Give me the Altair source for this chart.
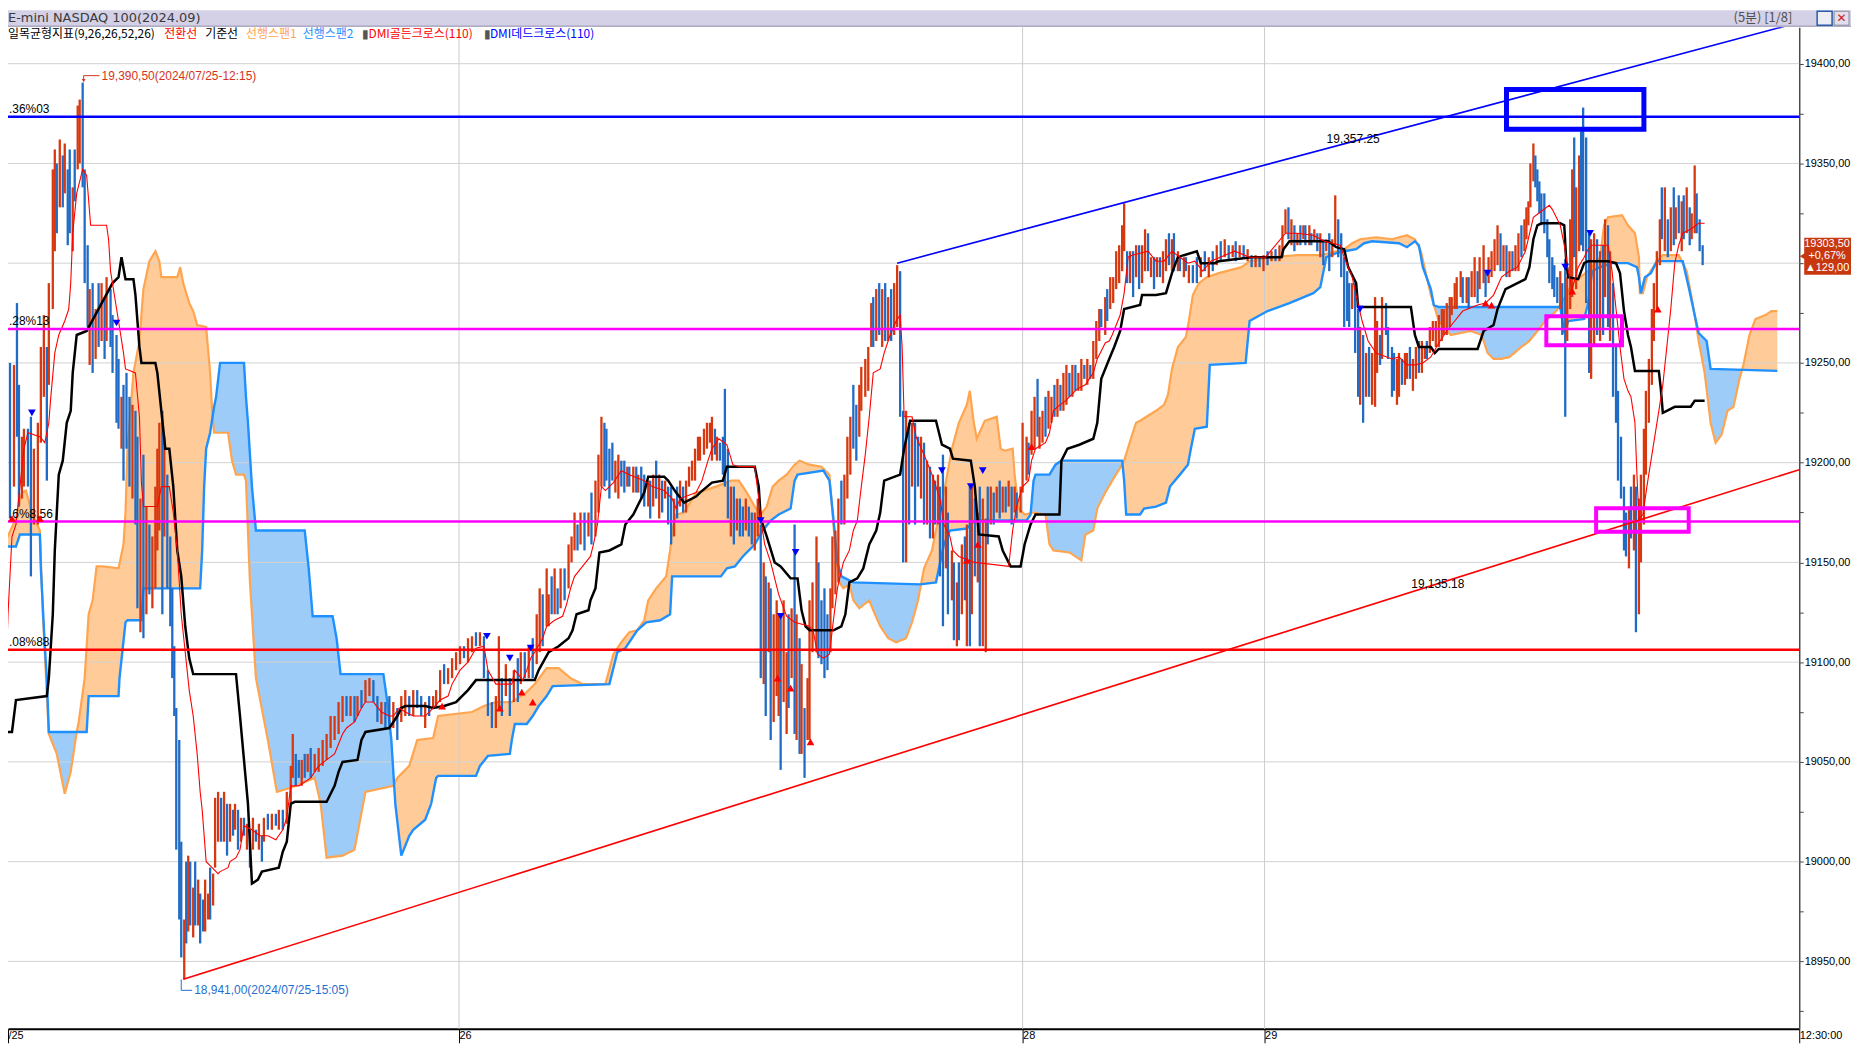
import altair as alt
import numpy as np
import pandas as pd

# ---------------- layout ----------------
W, H = 1799, 1006
PAD_R, PAD_T, PAD_B = 52, 17, 17
X_MIN, X_MAX = 8, 1807           # time index (5-min bar positions)
P_MIN, P_MAX = 18916.2, 19418.3  # price range of the panel

KFONT = "Noto Sans CJK KR"
NFONT = "Liberation Sans Narrow, Liberation Sans, Arial"

# ---------------- axes data ----------------
day_ticks = [8, 461, 1027, 1270, 1807]
day_labels = ["/25", "26", "28", "29", "12:30:00"]
day_grid = [461, 1027, 1270]
price_ticks = list(range(18925, 19401, 25))
price_grid = list(range(18950, 19401, 50))

# ---------------- candles: (t, high, low, up) ----------------
candles_a = [
(3,19218,19163,1),(6,19217,19188,1),(10,19250,19172,0),(14,19249,19188,1),(17,19280,19213,0),(19,19239,19178,0),
(22,19213,19182,1),(24,19217,19188,1),(28,19217,19188,0),(31,19223,19143,0),(34,19207,19169,1),(38,19220,19169,1),
(41,19258,19210,1),(44,19274,19233,1),(47,19258,19191,0),(49,19290,19239,1),(53,19347,19277,1),(55,19357,19306,1),
(57,19350,19315,0),(60,19362,19328,1),(63,19354,19328,0),(65,19360,19335,1),(68,19347,19309,0),(70,19357,19315,0),
(73,19338,19306,1),(75,19357,19331,0),(78,19379,19347,1),(80,19382,19350,1),(83,19390.5,19338,0),(85,19347,19290,0),
(88,19309,19268,0),(90,19287,19249,1),(93,19290,19245,0),(96,19277,19252,1),(99,19290,19258,0),(102,19290,19261,1),
(105,19283,19252,0),(107,19293,19261,1),(111,19287,19258,0),(113,19274,19245,0),(117,19264,19220,0),(119,19252,19217,0),
(122,19233,19207,1),(124,19239,19191,0),(127,19245,19207,0),(130,19233,19188,0),(133,19229,19182,1),(136,19226,19169,0),
(138,19213,19127,0),(141,19182,19115,1),(144,19204,19112,0),(147,19178,19124,1),(150,19169,19134,0),(153,19163,19127,1),
(156,19188,19137,1),(158,19207,19156,1),(160,19220,19166,1),(163,19226,19124,0),(165,19213,19163,1),(168,19194,19137,0),
(171,19163,19118,0),(173,19137,19092,0),(175,19108,19073,0),(177,19077,19006,0),(180,19061,18971,0),(182,19010,18952,0),
(185,18971,18941,1),(187,19000,18959,0),(189,19003,18965,1),(191,19000,18968,0),(194,18987,18962,1),(196,19000,18968,0),
(199,18991,18968,1),(201,18984,18959,0),(204,18981,18965,0),(206,18991,18965,1),(209,18984,18971,1),(211,18997,18971,0),
(214,18994,18978,1),(216,19032,18997,1),(219,19035,19010,1),(222,19032,19010,0),(225,19035,19010,1),(228,19029,19003,0),
(231,19029,19010,1),(234,19026,19013,0),(236,19029,19016,1),(239,19026,19006,0),(242,19022,19010,1),(245,19022,19013,0),
(248,19019,19006,1),(251,19016,18997,0),(254,19022,19006,1),(257,19016,19010,0),(260,19019,19006,1),(263,19013,19000,0),
(265,19022,19010,1),(269,19024,19016,0),(273,19024,19016,1),(277,19024,19018,0),(280,19026,19016,1),(284,19026,19016,0),
(288,19035,19019,1),(292,19048,19029,1),(294,19064,19042,1),(297,19054,19038,0),(300,19051,19042,0),(303,19051,19038,1),
(306,19054,19042,0),(309,19054,19045,1),(312,19057,19042,0),(316,19054,19045,1),(320,19057,19045,1),(324,19061,19048,1),
(328,19064,19051,1),(332,19073,19057,1),(336,19073,19061,1),(340,19080,19064,1),(344,19083,19070,1),(348,19083,19073,0),
(352,19083,19073,1),(356,19083,19070,0),(359,19083,19073,1),(363,19086,19077,0),(367,19091,19080,1),(371,19092,19083,1),
(375,19091,19080,0),(379,19083,19070,0),(383,19080,19069,1),(387,19080,19067,0),(391,19083,19067,0),(395,19080,19067,1),
(399,19077,19061,0),(403,19083,19070,1),(407,19086,19073,1),(411,19083,19073,0),(415,19086,19073,1),(419,19086,19077,0),
(423,19083,19073,0),(427,19080,19067,1),(431,19083,19073,0),(435,19083,19077,1),(438,19086,19078,1),(442,19096,19080,1),
(446,19099,19089,0),(450,19097,19089,1),(454,19102,19092,1),(458,19105,19096,1),(462,19108,19099,1),(466,19108,19102,0),
(470,19112,19100,1),(474,19113,19105,1),(478,19115,19108,0),(482,19115,19108,1),(486,19113,19092,0),(490,19096,19073,0),
(494,19080,19067,0),(498,19083,19067,1),(501,19113,19077,1),(504,19092,19073,0),(508,19099,19083,1),(512,19092,19073,0),
(516,19096,19080,1),(520,19102,19080,0),(523,19105,19089,1),(527,19105,19092,0),(531,19108,19092,1),(535,19112,19092,0),
(539,19124,19099,1),(542,19137,19105,1),(545,19134,19108,0),(549,19147,19118,1),(551,19134,19118,1),(554,19143,19124,0),
(557,19147,19124,1),(560,19137,19124,0),(563,19147,19127,1),(567,19147,19131,0),(571,19159,19137,1),(574,19163,19150,1),
(577,19175,19156,1),(580,19169,19156,0),(583,19175,19159,1),(587,19175,19156,0),(591,19175,19163,1),(594,19185,19159,0),
(598,19191,19163,1),(601,19204,19175,1),(604,19223,19188,1),(607,19220,19188,0),
]
candles_b = [
(609,19217,19191,0),(612,19207,19182,0),(615,19210,19191,0),(618,19201,19185,1),(621,19204,19182,1),(624,19201,19188,0),
(627,19201,19185,0),(630,19198,19188,1),(632,19198,19188,0),(636,19198,19185,1),(639,19198,19185,0),(641,19194,19185,1),
(644,19198,19182,0),(647,19194,19178,0),(651,19191,19178,1),(653,19191,19172,0),(656,19194,19178,1),(659,19201,19182,0),
(662,19194,19172,1),(665,19191,19175,0),(668,19191,19182,1),(671,19188,19169,0),(674,19188,19159,0),(677,19182,19163,1),
(680,19188,19172,0),(683,19191,19178,1),(686,19188,19175,0),(689,19191,19175,1),(692,19198,19188,1),(695,19201,19191,1),
(698,19207,19191,1),(701,19213,19201,1),(703,19213,19201,1),(707,19217,19204,1),(710,19220,19207,1),(713,19220,19210,1),
(715,19223,19201,1),(718,19217,19204,0),(720,19213,19201,1),(723,19210,19201,0),(726,19213,19194,0),(728,19237,19188,0),
(731,19207,19172,0),(734,19188,19163,1),(737,19188,19159,0),(740,19182,19166,1),(743,19182,19163,0),(746,19178,19163,0),
(749,19182,19166,1),(752,19178,19163,0),(755,19175,19159,0),(758,19175,19156,1),(761,19182,19163,1),(764,19169,19092,0),
(767,19150,19089,1),(769,19143,19073,0),(772,19140,19105,1),(774,19137,19061,0),(777,19124,19070,1),(780,19131,19083,1),
(782,19124,19073,1),(784,19124,19046,0),(787,19131,19080,1),(790,19105,19064,1),(792,19124,19077,0),(795,19127,19092,1),
(798,19169,19064,0),(800,19124,19061,1),(803,19112,19054,0),(805,19099,19054,1),(808,19077,19042,0),(811,19092,19061,1),
(813,19131,19061,1),(816,19140,19105,1),(820,19163,19105,1),(822,19150,19102,0),(825,19131,19099,0),(828,19137,19092,0),
(831,19124,19096,0),(834,19137,19105,1),(836,19163,19127,1),(839,19166,19134,1),(842,19182,19140,1),(845,19191,19169,0),
(848,19194,19169,1),(851,19213,19182,1),(854,19223,19194,1),(857,19239,19207,0),(860,19229,19201,0),(863,19239,19213,1),
(865,19248,19226,1),(869,19252,19233,1),(872,19258,19236,1),(875,19280,19258,1),(877,19283,19258,0),(880,19287,19261,1),
(883,19290,19264,0),(886,19287,19258,1),(889,19290,19261,0),(892,19283,19261,1),(895,19287,19261,0),(898,19290,19264,1),
(901,19299,19268,1),(904,19296,19223,0),(907,19226,19150,0),(910,19226,19150,1),(913,19220,19169,0),(916,19220,19188,1),
(919,19220,19169,0),(922,19213,19188,0),(925,19213,19182,1),(928,19210,19169,0),(931,19201,19169,1),(934,19198,19162,0),
(937,19194,19162,1),(939,19191,19169,0),(942,19194,19169,1),(944,19188,19143,0),(947,19204,19118,0),(950,19188,19147,1),
(952,19175,19124,0),(956,19156,19131,1),(958,19150,19111,0),(961,19140,19108,1),(963,19150,19111,0),(966,19159,19124,1),
(969,19163,19131,0),(971,19169,19108,1),(974,19188,19108,0),(976,19188,19124,1),(979,19182,19143,0),(982,19175,19140,1),
(984,19188,19108,0),(987,19182,19108,1),(990,19172,19105,1),(992,19188,19159,0),(995,19188,19169,1),(998,19185,19169,0),
(1001,19188,19175,1),(1004,19191,19172,0),(1007,19188,19175,1),(1010,19188,19175,0),(1013,19191,19178,1),(1016,19188,19169,0),
(1019,19188,19175,1),(1021,19185,19172,0),(1025,19188,19175,1),(1027,19220,19185,1),(1031,19213,19191,1),(1033,19210,19194,0),
(1036,19226,19204,1),(1039,19233,19207,1),(1042,19242,19213,0),(1044,19223,19207,1),(1047,19226,19210,1),(1050,19233,19213,0),
(1053,19236,19217,1),(1056,19233,19220,1),(1059,19239,19223,0),(1062,19242,19223,1),(1065,19239,19226,0),(1068,19245,19226,1),
(1071,19249,19229,1),(1074,19245,19233,0),(1077,19249,19233,1),(1080,19249,19236,0),(1083,19245,19236,1),(1086,19252,19236,1),
(1089,19249,19242,0),(1092,19252,19239,1),(1095,19249,19242,0),(1098,19261,19242,1),(1101,19271,19252,1),(1104,19277,19261,1),
(1106,19277,19268,0),(1110,19283,19264,1),(1112,19287,19271,0),(1115,19293,19277,1),(1118,19293,19280,1),(1121,19306,19287,1),
(1124,19309,19290,1),(1127,19319,19296,1),(1129,19330,19306,1),(1132,19306,19290,0),(1135,19306,19290,1),(1138,19306,19283,0),
(1141,19309,19293,1),(1144,19309,19287,0),(1147,19309,19290,1),(1150,19317,19296,1),(1153,19315,19296,0),(1156,19303,19293,1),
(1159,19303,19287,0),(1162,19303,19293,1),(1165,19303,19293,0),(1168,19306,19290,1),(1171,19312,19296,1),(1174,19315,19299,0),
(1177,19312,19296,1),(1179,19315,19296,0),(1183,19306,19296,1),(1185,19303,19296,0),(1189,19303,19293,1),(1191,19303,19296,0),
(1194,19299,19290,1),(1198,19299,19290,0),
]
candles_c = [
(1202,19303,19290,0),(1206,19303,19293,1),(1210,19306,19296,0),(1214,19303,19293,1),(1218,19306,19296,0),(1222,19309,19299,1),
(1226,19311,19301,0),(1230,19312,19303,1),(1234,19309,19301,0),(1238,19309,19303,1),(1241,19311,19301,0),(1245,19309,19303,1),
(1249,19309,19303,0),(1253,19307,19301,1),(1257,19304,19298,0),(1261,19304,19298,1),(1265,19303,19298,0),(1269,19304,19296,1),
(1273,19306,19299,0),(1277,19306,19301,1),(1281,19307,19301,0),(1285,19309,19301,1),(1288,19319,19303,1),(1291,19327,19315,1),
(1294,19328,19312,0),(1297,19322,19309,1),(1300,19319,19306,0),(1303,19315,19309,1),(1306,19319,19309,0),(1309,19319,19312,1),
(1311,19319,19309,0),(1315,19319,19309,1),(1317,19315,19309,0),(1320,19317,19311,1),(1323,19315,19306,0),(1326,19315,19303,1),
(1329,19312,19299,0),(1332,19312,19306,1),(1335,19315,19296,0),(1338,19312,19303,1),(1341,19334,19309,1),(1344,19322,19303,0),
(1347,19315,19293,0),(1350,19303,19268,0),(1353,19296,19271,0),(1355,19290,19268,0),(1358,19290,19277,1),(1361,19290,19255,0),
(1364,19277,19233,0),(1366,19268,19229,1),(1369,19264,19220,0),(1372,19255,19233,1),(1375,19258,19233,0),(1378,19255,19229,1),
(1381,19283,19228,1),(1383,19271,19245,1),(1386,19264,19249,0),(1388,19283,19252,1),(1392,19280,19264,0),(1394,19268,19252,0),
(1398,19258,19233,0),(1400,19255,19236,0),(1403,19252,19229,1),(1405,19255,19233,1),(1408,19252,19239,0),(1411,19255,19239,1),
(1413,19255,19242,1),(1416,19258,19242,0),(1419,19252,19236,1),(1422,19258,19242,1),(1425,19261,19245,0),(1428,19261,19245,1),
(1431,19258,19252,1),(1433,19261,19252,0),(1436,19268,19255,1),(1439,19271,19261,1),(1442,19271,19258,1),(1445,19274,19258,1),
(1448,19277,19261,1),(1450,19277,19264,1),(1453,19280,19264,1),(1456,19283,19268,1),(1458,19283,19274,1),(1461,19290,19277,1),
(1463,19293,19277,1),(1467,19296,19283,1),(1469,19293,19280,0),(1473,19293,19280,1),(1475,19293,19277,0),(1478,19296,19283,1),
(1481,19303,19283,1),(1484,19296,19280,0),(1486,19303,19287,1),(1490,19309,19290,1),(1492,19296,19283,0),(1495,19303,19290,1),
(1498,19306,19293,1),(1501,19312,19296,1),(1504,19319,19299,1),(1507,19315,19296,0),(1510,19309,19296,1),(1513,19309,19293,0),
(1516,19306,19293,1),(1519,19306,19296,0),(1522,19309,19296,1),(1525,19315,19296,1),(1528,19319,19303,0),(1531,19322,19306,1),
(1533,19328,19312,1),(1535,19331,19319,1),(1537,19350,19328,1),(1540,19360,19341,1),(1542,19354,19338,0),(1544,19347,19331,0),
(1546,19341,19325,0),(1548,19335,19319,0),(1551,19335,19315,0),(1554,19322,19303,0),(1556,19312,19290,0),(1559,19303,19287,0),
(1561,19299,19283,0),(1564,19293,19280,0),(1567,19296,19277,1),(1569,19290,19264,0),(1572,19302,19223,0),(1574,19293,19261,1),
(1577,19322,19277,1),(1579,19347,19283,1),(1581,19363,19303,0),(1583,19338,19287,1),(1586,19354,19306,1),(1588,19366,19309,0),
(1590,19378,19306,0),(1593,19363,19280,0),(1596,19315,19245,0),(1598,19312,19242,1),(1601,19315,19258,1),(1604,19312,19264,0),
(1607,19306,19261,1),(1610,19309,19264,0),(1612,19322,19283,1),(1615,19319,19268,0),(1617,19306,19261,1),(1620,19290,19233,0),
(1623,19258,19220,0),(1625,19236,19191,0),(1628,19213,19182,0),(1631,19188,19156,0),(1633,19175,19153,0),(1636,19178,19147,1),
(1638,19188,19162,0),(1641,19194,19156,1),(1643,19188,19115,0),(1646,19182,19124,1),(1648,19194,19150,1),(1651,19217,19169,1),
(1653,19236,19194,1),(1656,19252,19220,1),(1659,19277,19239,1),(1661,19290,19261,1),(1664,19306,19277,1),(1667,19322,19299,1),
(1669,19338,19312,0),(1672,19338,19306,1),(1675,19322,19303,0),(1678,19328,19306,1),(1681,19338,19309,0),(1683,19328,19312,1),
(1686,19334,19315,0),(1689,19331,19306,1),(1691,19334,19312,0),(1694,19338,19315,1),(1697,19328,19309,0),(1699,19325,19312,1),
(1702,19349,19315,1),(1704,19335,19315,0),(1707,19322,19306,0),(1710,19309,19299,0),
]

# ---------------- ichimoku lines: (t, price) ----------------
tenkan = [
(0,19032),(4,19065),(8,19124),(12,19163),(16,19169),(24,19207),(28,19215),(40,19213),(45,19210),(49,19220),(51,19233),
(55,19255),(59,19264),(65,19271),(69,19277),(71,19290),(73,19315),(77,19335),(83,19347),(87,19344),(91,19319),(107,19319),
(109,19312),(111,19296),(119,19271),(124,19255),(126,19247),(136,19245),(140,19223),(142,19190),(144,19178),(158,19178),
(162,19188),(170,19188),(174,19175),(178,19156),(182,19124),(186,19105),(190,19086),(194,19073),(198,19054),(201,19035),
(203,19026),(207,19000),(213,18997),(219,18994),(221,18995),(229,18997),(231,19000),(237,19002),(241,19006),(245,19018),
(253,19016),(261,19013),(269,19013),(277,19011),(284,19016),(288,19022),(292,19038),(300,19038),(312,19042),(316,19045),
(320,19048),(328,19051),(336,19054),(344,19064),(348,19067),(356,19070),(363,19077),(367,19080),(375,19080),(383,19075),
(391,19073),(395,19073),(401,19077),(407,19075),(415,19073),(427,19073),(435,19077),(442,19081),(450,19083),(454,19089),
(462,19096),(470,19100),(478,19107),(486,19108),(490,19096),(498,19089),(514,19089),(517,19096),(525,19091),(529,19096),
(533,19102),(537,19105),(545,19112),(549,19118),(557,19121),(565,19123),(569,19129),(573,19137),(577,19143),(585,19148),
(593,19153),(596,19159),(600,19169),(604,19188),(608,19186),(616,19190),(624,19196),(632,19194),(647,19191),(655,19188),
(667,19186),(675,19182),(679,19177),(683,19182),(699,19185),(705,19191),(711,19201),(715,19207),(722,19212),(730,19209),
(736,19199),(742,19198),(758,19198),(762,19182),(764,19172),(768,19159),(774,19150),(782,19134),(790,19123),(798,19120),
(813,19118),(817,19115),(821,19104),(827,19102),(833,19104),(837,19121),(841,19137),(847,19150),(853,19156),(857,19166),
(861,19171),(865,19188),(869,19204),(873,19223),(877,19245),(884,19247),(888,19255),(894,19264),(900,19271),(904,19274),
(906,19258),(908,19223),(916,19223),(920,19213),(928,19204),(936,19194),(944,19182),(948,19169),(954,19163),(957,19156),
(963,19153),(979,19150),(1013,19148),(1017,19166),(1021,19178),(1027,19188),(1033,19191),(1036,19201),(1040,19207),
(1050,19210),(1054,19215),(1058,19226),(1062,19228),(1070,19231),(1076,19234),(1082,19237),(1090,19239),(1098,19245),
(1102,19252),(1110,19260),(1114,19261),(1117,19264),(1125,19274),(1129,19285),(1133,19303),(1137,19304),(1153,19306),
(1161,19301),(1169,19301),(1177,19306),(1185,19303),(1193,19300),(1200,19301),(1208,19296),(1216,19301),(1240,19306),
(1255,19303),(1271,19303),(1291,19315),(1303,19315),(1319,19314),(1330,19311),(1346,19309),(1350,19303),(1358,19293),
(1362,19284),(1368,19271),(1374,19261),(1382,19255),(1398,19252),(1405,19253),(1413,19249),(1421,19249),(1429,19250),
(1437,19253),(1445,19260),(1453,19266),(1461,19271),(1469,19276),(1484,19279),(1492,19280),(1500,19284),(1508,19293),
(1516,19296),(1524,19298),(1532,19306),(1540,19323),(1548,19326),(1556,19329),(1559,19327),(1567,19319),(1571,19309),
(1575,19296),(1579,19287),(1585,19298),(1591,19303),(1595,19307),(1599,19309),(1615,19309),(1619,19296),(1623,19277),
(1627,19258),(1631,19242),(1635,19236),(1638,19233),(1642,19220),(1644,19194),(1646,19172),(1650,19174),(1654,19188),
(1660,19207),(1666,19226),(1670,19239),(1674,19258),(1678,19277),(1682,19300),(1686,19309),(1690,19315),(1698,19317),
(1706,19320),(1712,19320),
]
kijun = [
(0,19065),(12,19065),(16,19081),(47,19083),(49,19092),(53,19124),(55,19156),(59,19194),(63,19201),(67,19220),(71,19226),
(73,19245),(77,19264),(87,19266),(113,19290),(119,19293),(122,19303),(126,19292),(134,19292),(136,19284),(140,19258),
(142,19250),(156,19250),(158,19245),(162,19226),(166,19207),(170,19207),(174,19188),(178,19156),(182,19143),(186,19118),
(190,19102),(194,19094),(237,19094),(241,19073),(245,19051),(249,19029),(253,18989),(259,18991),(263,18995),(280,18997),
(284,19005),(288,19010),(292,19029),(296,19030),(328,19030),(336,19038),(340,19045),(344,19050),(359,19051),(363,19061),
(367,19065),(391,19067),(395,19070),(399,19073),(403,19077),(407,19078),(427,19078),(435,19077),(446,19078),(458,19080),
(470,19086),(478,19091),(537,19091),(541,19096),(551,19105),(561,19108),(571,19112),(575,19116),(579,19124),(591,19126),
(593,19131),(598,19137),(602,19155),(612,19156),(624,19159),(628,19169),(636,19174),(647,19185),(651,19193),(667,19193),
(671,19191),(679,19185),(687,19180),(699,19183),(703,19185),(715,19190),(726,19191),(730,19198),(758,19198),(762,19188),
(764,19172),(770,19163),(778,19150),(784,19148),(794,19142),(801,19142),(805,19126),(809,19118),(813,19116),(837,19116),
(845,19118),(849,19124),(853,19140),(861,19142),(867,19147),(873,19159),(880,19166),(884,19175),(888,19191),(904,19194),
(908,19207),(914,19221),(940,19221),(946,19209),(954,19207),(957,19202),(975,19201),(979,19188),(983,19164),(1003,19163),
(1007,19156),(1015,19148),(1025,19148),(1029,19159),(1035,19169),(1040,19174),(1064,19174),(1066,19201),(1072,19207),
(1084,19209),(1098,19212),(1102,19220),(1106,19242),(1114,19252),(1119,19258),(1125,19266),(1129,19277),(1145,19279),
(1147,19284),(1161,19284),(1171,19285),(1177,19295),(1183,19303),(1189,19304),(1202,19306),(1206,19300),(1220,19300),
(1224,19301),(1257,19303),(1287,19303),(1289,19307),(1295,19311),(1334,19311),(1342,19308),(1350,19307),(1354,19298),
(1362,19290),(1364,19278),(1417,19278),(1421,19264),(1425,19258),(1437,19258),(1441,19255),(1445,19257),(1484,19257),
(1490,19266),(1500,19269),(1504,19277),(1512,19287),(1516,19288),(1532,19292),(1536,19298),(1540,19312),(1544,19319),
(1548,19320),(1567,19320),(1571,19319),(1573,19301),(1575,19293),(1585,19292),(1591,19300),(1595,19301),(1615,19301),
(1623,19300),(1627,19295),(1631,19276),(1635,19264),(1638,19258),(1642,19246),(1666,19246),(1668,19237),(1670,19225),
(1674,19226),(1682,19228),(1698,19228),(1702,19231),(1712,19231),
]
span1 = [
(0,19153),(4,19159),(16,19172),(22,19185),(26,19186),(32,19175),(40,19166),(43,19124),(49,19064),(57,19054),(65,19034),
(71,19045),(77,19065),(79,19070),(85,19092),(89,19124),(93,19131),(97,19148),(103,19148),(119,19147),(124,19159),
(126,19175),(128,19207),(134,19245),(140,19261),(144,19287),(150,19301),(156,19306),(160,19301),(162,19293),(178,19293),
(181,19298),(184,19290),(190,19280),(194,19276),(198,19269),(207,19268),(211,19245),(213,19226),(215,19215),(229,19215),
(233,19201),(237,19194),(245,19194),(247,19191),(251,19140),(257,19092),(269,19061),(278,19035),(292,19037),(316,19042),
(322,19029),(328,19002),(344,19003),(356,19006),(367,19035),(395,19038),(399,19042),(411,19048),(419,19061),(435,19062),
(440,19073),(474,19075),(486,19078),(498,19080),(514,19080),(529,19085),(537,19089),(549,19097),(561,19097),(573,19092),
(585,19089),(608,19089),(616,19104),(624,19110),(632,19115),(640,19116),(647,19121),(651,19131),(659,19137),(669,19143),
(673,19156),(675,19166),(679,19174),(687,19175),(699,19185),(707,19186),(719,19188),(734,19191),(742,19191),(750,19185),
(758,19178),(764,19174),(770,19178),(776,19188),(782,19191),(790,19194),(798,19199),(803,19201),(813,19199),(825,19198),
(833,19194),(837,19169),(839,19156),(843,19140),(847,19137),(853,19139),(857,19131),(863,19127),(873,19131),(877,19126),
(884,19118),(892,19112),(900,19110),(910,19112),(916,19120),(922,19131),(928,19147),(936,19156),(940,19166),(948,19185),
(956,19207),(963,19220),(971,19229),(974,19236),(978,19220),(981,19212),(989,19221),(1001,19223),(1005,19207),(1009,19206),
(1017,19207),(1019,19194),(1023,19177),(1029,19174),(1038,19175),(1050,19174),(1054,19159),(1058,19156),(1074,19155),
(1086,19151),(1090,19164),(1098,19166),(1102,19177),(1110,19185),(1117,19191),(1127,19199),(1129,19201),(1137,19214),
(1141,19220),(1145,19221),(1161,19226),(1169,19229),(1173,19234),(1177,19247),(1183,19258),(1191,19263),(1194,19271),
(1198,19284),(1204,19290),(1212,19293),(1224,19295),(1247,19298),(1255,19301),(1279,19303),(1303,19304),(1326,19304),
(1350,19307),(1358,19310),(1366,19312),(1382,19313),(1398,19312),(1413,19314),(1421,19312),(1427,19306),(1437,19284),
(1445,19271),(1457,19264),(1477,19266),(1488,19264),(1494,19255),(1500,19252),(1508,19252),(1516,19253),(1528,19258),
(1536,19261),(1544,19266),(1552,19271),(1563,19276),(1573,19284),(1579,19290),(1587,19293),(1595,19296),(1607,19303),
(1611,19319),(1615,19323),(1629,19324),(1635,19319),(1642,19315),(1646,19303),(1647,19285),(1650,19285),(1654,19293),
(1664,19301),(1670,19304),(1686,19304),(1694,19296),(1700,19280),(1706,19261),(1712,19245),(1718,19220),(1723,19210),
(1729,19214),(1735,19226),(1741,19228),(1747,19242),(1751,19249),(1757,19264),(1763,19272),(1773,19274),(1779,19276),
(1785,19276),
]
span2 = [
(0,19158),(16,19158),(20,19164),(40,19164),(41,19147),(45,19108),(47,19092),(49,19065),(87,19065),(89,19083),(119,19083),
(120,19092),(126,19120),(128,19121),(142,19121),(144,19137),(201,19137),(203,19156),(205,19188),(207,19207),(211,19215),
(215,19228),(217,19233),(221,19250),(245,19250),(247,19233),(249,19220),(253,19188),(257,19166),(306,19166),(310,19147),
(314,19123),(334,19123),(338,19112),(342,19094),(385,19094),(389,19080),(393,19061),(397,19029),(403,19003),(411,19013),
(415,19016),(427,19021),(433,19029),(438,19042),(440,19043),(478,19043),(482,19048),(490,19053),(512,19054),(514,19061),
(517,19069),(529,19069),(535,19073),(541,19078),(549,19083),(555,19088),(612,19089),(616,19097),(620,19105),(628,19107),
(640,19116),(649,19120),(663,19121),(673,19124),(675,19143),(724,19143),(730,19147),(738,19148),(746,19153),(758,19159),
(766,19166),(774,19171),(782,19174),(794,19177),(798,19191),(801,19194),(827,19196),(833,19191),(837,19172),(841,19150),
(845,19143),(857,19140),(924,19139),(940,19140),(948,19159),(954,19166),(971,19167),(979,19171),(1031,19171),(1035,19174),
(1038,19191),(1040,19194),(1054,19194),(1060,19199),(1066,19201),(1127,19201),(1129,19191),(1131,19174),(1145,19174),
(1149,19177),(1161,19178),(1171,19180),(1175,19188),(1185,19194),(1193,19199),(1196,19207),(1200,19217),(1212,19218),
(1215,19249),(1251,19250),(1255,19271),(1273,19276),(1295,19280),(1319,19285),(1326,19288),(1332,19303),(1342,19305),
(1350,19306),(1362,19307),(1370,19310),(1378,19311),(1405,19310),(1413,19308),(1421,19311),(1425,19309),(1429,19298),
(1437,19287),(1440,19279),(1445,19278),(1567,19278),(1571,19265),(1575,19271),(1591,19272),(1595,19280),(1599,19296),
(1607,19298),(1619,19300),(1635,19300),(1644,19298),(1646,19293),(1648,19285),(1652,19293),(1658,19295),(1664,19301),
(1690,19301),(1696,19288),(1702,19274),(1706,19265),(1714,19261),(1718,19247),(1785,19246),
]

# ---------------- drawn objects ----------------
level_prices = [19373.4, 19267.0, 19170.5, 19106.2]
level_colors = ["#0000FF", "#FF00FF", "#FF00FF", "#FF0000"]
level_texts = [".36%03", ".28%13", ".6%8.56", ".08%88"]

trend_blue = [(901, 19300.0), (1807, 19420.7)]
trend_red = [(184, 18941.0), (1807, 19196.5)]
trend_texts = [(1359, 19362, "19,357.25"), (1444, 19139, "19,135.18")]

box_t = [1513, 1553, 1603]
box_t2 = [1651, 1629, 1696]
box_p = [19387.1, 19273.4, 19177.2]
box_p2 = [19367.1, 19258.8, 19165.4]
box_colors = ["#0000FF", "#FF00FF", "#FF00FF"]
box_widths = [5, 4, 4]

dmi_golden = [(12,19172),(40,19172),(444,19078),(502,19077),(524,19085),(535,19080),(781,19092),(794,19087),
              (814,19060),(971,19151),(982,19159),(1036,19208),(1492,19280),(1498,19279),(1579,19286),(1665,19277)]
dmi_dead = [(32,19225),(117,19270),(489,19113),(512,19102),(533,19107),(764,19171),(784,19123),(799,19155),
            (946,19196),(975,19188),(987,19196),(1366,19277),(1494,19295),(1572,19298),(1597,19315)]

high_label = (102, 19394, "19,390,50(2024/07/25-12:15)")
high_leader = [(84, 19391.5), (84, 19394), (100, 19394)]
low_label = (195, 18935.5, "18,941,00(2024/07/25-15:05)")
low_leader = [(182, 18941), (182, 18935.5), (193, 18935.5)]

last_price = 19303.5
tag_lines = ["19303,50", "+0,67%", "\u25b2129,00"]

legend_items = [(0, "일목균형지표(9,26,26,52,26)", "#000000"), (157, "전환선", "#FF0000"),
                (198, "기준선", "#000000"), (239, "선행스팬1", "#FFA54F"), (296, "선행스팬2", "#1E90FF"),
                (356, "\u25ae", "#555555"), (362, "DMI골든크로스(110)", "#FF0000"),
                (478, "\u25ae", "#555555"), (484, "DMI데드크로스(110)", "#0000FF")]

# ---------------- scales / axes ----------------
xs = alt.Scale(domain=[X_MIN, X_MAX], nice=False, zero=False)
ys = alt.Scale(domain=[P_MIN, P_MAX], nice=False, zero=False)
x_label_expr = " : ".join(f"datum.value == {v} ? '{l}'" for v, l in zip(day_ticks[:-1], day_labels[:-1])) + f" : '{day_labels[-1]}'"
xaxis = alt.Axis(values=day_ticks, labelExpr=x_label_expr, title=None, grid=False, domainColor="#000000",
                 domainWidth=2, tickColor="#000000", tickSize=14, labelAlign="left", labelBaseline="top",
                 labelPadding=-13, labelFontSize=11, labelFont=NFONT, labelColor="#000000",
                 labelFlush=False, labelOverlap=False)
# the 19300 label sits under the last-price tag, as in the source chart
yaxis = alt.Axis(orient="right", values=price_ticks, title=None, grid=False,
                 labelExpr="(datum.value % 50 == 0 && datum.value != 19300) ? replace(format(datum.value, '.2f'), '.', ',') : ''",
                 domainColor="#4A4A4A", domainWidth=1.5, tickColor="#4A4A4A", tickSize=4, labelPadding=1,
                 labelFontSize=11, labelFont=NFONT, labelColor="#000000", labelFlush=False, labelOverlap=False)


def X(f="t"):
    return alt.X(f"{f}:Q", scale=xs, axis=xaxis)


def Y(f="p"):
    return alt.Y(f"{f}:Q", scale=ys, axis=yaxis)


def pts(lst):
    return pd.DataFrame(lst, columns=["t", "p"])


# ---------------- data frames ----------------
cand = pd.DataFrame(candles_a + candles_b + candles_c, columns=["t", "p", "p2", "up"])
cand["dir"] = np.where(cand["up"] == 1, "up", "down")

s1 = pts(span1)
s2 = pts(span2)
# fill geometry between the two read span lines (drawn lines are straight between read vertices)
gt = np.arange(0, 1786)
g1 = np.interp(gt, s1["t"], s1["p"])
g2 = np.interp(gt, s2["t"], s2["p"])
cloud = pd.DataFrame({"t": gt, "a": g1, "b": g2, "lo": np.minimum(g1, g2)})

layers = []
layers.append(alt.Chart(cloud).mark_area(color="#FFCC99", opacity=1).encode(x=X(), y=Y("a"), y2=alt.Y2("lo:Q")))
layers.append(alt.Chart(cloud).mark_area(color="#9DCCF8", opacity=1).encode(x=X(), y=Y("b"), y2=alt.Y2("lo:Q")))
layers.append(alt.Chart(pd.DataFrame({"p": price_grid})).mark_rule(color="#D2D2D2", strokeWidth=1).encode(y=Y()))
layers.append(alt.Chart(pd.DataFrame({"t": day_grid})).mark_rule(color="#CDCDCD", strokeWidth=1).encode(x=X()))
layers.append(alt.Chart(s1).mark_line(color="#FFA54F", strokeWidth=2.2).encode(x=X(), y=Y()))
layers.append(alt.Chart(s2).mark_line(color="#1E90FF", strokeWidth=2.4).encode(x=X(), y=Y()))
layers.append(alt.Chart(cand).mark_rule(strokeWidth=2.3).encode(
    x=X(), y=Y(), y2=alt.Y2("p2:Q"),
    color=alt.Color("dir:N", scale=alt.Scale(domain=["up", "down"], range=["#D7380F", "#1F6BC5"]), legend=None)))
layers.append(alt.Chart(pts(kijun)).mark_line(color="#000000", strokeWidth=2.5).encode(x=X(), y=Y()))
layers.append(alt.Chart(pts(tenkan)).mark_line(color="#FF0000", strokeWidth=1.1).encode(x=X(), y=Y()))

lv = pd.DataFrame({"p": level_prices, "c": level_colors, "txt": level_texts})
layers.append(alt.Chart(lv).mark_rule(strokeWidth=2.5).encode(y=Y(), color=alt.Color("c:N", scale=None)))
layers.append(alt.Chart(lv.assign(t=X_MIN)).mark_text(align="left", baseline="bottom", dx=1, dy=-1, fontSize=12,
                                                      font=NFONT, color="#000000").encode(x=X(), y=Y(), text="txt:N"))

layers.append(alt.Chart(pts(trend_blue)).mark_line(color="#0000FF", strokeWidth=1.6, clip=True).encode(x=X(), y=Y()))
layers.append(alt.Chart(pts(trend_red)).mark_line(color="#FF0000", strokeWidth=1.6, clip=True).encode(x=X(), y=Y()))
layers.append(alt.Chart(pd.DataFrame(trend_texts, columns=["t", "p", "txt"])).mark_text(
    fontSize=12, font=NFONT, color="#000000").encode(x=X(), y=Y(), text="txt:N"))

bx = pd.DataFrame({"t": box_t, "t2": box_t2, "p": box_p, "p2": box_p2, "c": box_colors, "w": box_widths})
layers.append(alt.Chart(bx).mark_rect(fillOpacity=0, strokeJoin="miter").encode(
    x=X(), x2=alt.X2("t2:Q"), y=Y(), y2=alt.Y2("p2:Q"),
    stroke=alt.Color("c:N", scale=None), strokeWidth=alt.StrokeWidth("w:Q", scale=None)))

layers.append(alt.Chart(pts(dmi_golden)).mark_point(shape="triangle-up", filled=True, size=60, opacity=1,
                                                   color="#FF0000").encode(x=X(), y=Y()))
layers.append(alt.Chart(pts(dmi_dead)).mark_point(shape="triangle-down", filled=True, size=60, opacity=1,
                                                 color="#0000FF").encode(x=X(), y=Y()))

for lead, lab, col in [(high_leader, high_label, "#D6341A"), (low_leader, low_label, "#1F6FD0")]:
    ld = pts(lead)
    ld["o"] = range(len(ld))
    layers.append(alt.Chart(ld).mark_line(color=col, strokeWidth=1).encode(x=X(), y=Y(), order="o:Q"))
    layers.append(alt.Chart(pd.DataFrame([lab], columns=["t", "p", "txt"])).mark_text(
        align="left", baseline="middle", fontSize=12, font=NFONT, color=col).encode(x=X(), y=Y(), text="txt:N"))
layers.append(alt.Chart(pd.DataFrame({"t": [high_leader[0][0]], "p": [high_leader[0][1]]})).mark_point(
    shape="triangle-down", filled=True, size=14, opacity=1, color="#D6341A").encode(x=X(), y=Y()))

# price tag on the right axis
tag_box = pd.DataFrame({"p": [last_price + 9.25], "p2": [last_price - 9.25]})
layers.append(alt.Chart(tag_box).mark_rect(color="#C8380E").encode(
    x=alt.value(W + 5), x2=alt.value(W + PAD_R), y=Y(), y2=alt.Y2("p2:Q")))
layers.append(alt.Chart(pd.DataFrame({"p": [last_price]})).mark_point(
    shape="triangle-left", filled=True, size=110, opacity=1, color="#C8380E").encode(x=alt.value(W + 5), y=Y()))
tag_df = pd.DataFrame({"p": [last_price + 6, last_price, last_price - 6], "txt": tag_lines})
layers.append(alt.Chart(tag_df).mark_text(color="#FFFFFF", fontSize=11, font=NFONT, align="center",
                                          baseline="middle").encode(x=alt.value(W + 28), y=Y(), text="txt:N"))

# header bar and indicator legend (window chrome)
one = pd.DataFrame({"k": [0]})
layers.append(alt.Chart(one).mark_rect(color="#D4D0E6").encode(
    x=alt.value(0), x2=alt.value(W + PAD_R), y=alt.value(-17), y2=alt.value(-1)))
layers.append(alt.Chart(one).mark_rule(color="#8E8CAA", strokeWidth=1).encode(
    x=alt.value(0), x2=alt.value(W + PAD_R), y=alt.value(-1)))
layers.append(alt.Chart(one).mark_text(align="left", baseline="middle", fontSize=13, font="DejaVu Sans",
                                       color="#3A3A3A").encode(x=alt.value(0), y=alt.value(-9),
                                                                text=alt.value("E-mini NASDAQ 100(2024.09)")))
layers.append(alt.Chart(one).mark_text(align="left", baseline="middle", fontSize=13, font=KFONT,
                                       color="#505050").encode(x=alt.value(1733), y=alt.value(-9),
                                                                text=alt.value("(5분) [1/8]")))
layers.append(alt.Chart(one).mark_rect(fill="#EDEDF5", stroke="#2B5BA8", strokeWidth=1.5).encode(
    x=alt.value(1817), x2=alt.value(1832), y=alt.value(-16), y2=alt.value(-2)))
layers.append(alt.Chart(one).mark_rect(fill="#E2DFEC", stroke="#8A8A9A", strokeWidth=1).encode(
    x=alt.value(1834), x2=alt.value(1849), y=alt.value(-16), y2=alt.value(-2)))
layers.append(alt.Chart(one).mark_text(align="center", baseline="middle", fontSize=12, font="DejaVu Sans",
                                       color="#CC2020").encode(x=alt.value(1841.5), y=alt.value(-9),
                                                                text=alt.value("\u2715")))
leg = pd.DataFrame(legend_items, columns=["x", "txt", "c"])
for _, r in leg.iterrows():
    layers.append(alt.Chart(one).mark_text(align="left", baseline="middle", fontSize=12, font=KFONT,
                                           color=r["c"]).encode(x=alt.value(float(r["x"])), y=alt.value(7),
                                                                 text=alt.value(r["txt"])))

chart = alt.layer(*layers).properties(
    width=W, height=H,
    autosize=alt.AutoSizeParams(type="none"),
    padding={"left": 0, "top": PAD_T, "right": PAD_R, "bottom": PAD_B},
    background="#FFFFFF",
).configure_view(stroke=None)

chart.save("out.html", embed_options={"renderer": "svg", "actions": False})
